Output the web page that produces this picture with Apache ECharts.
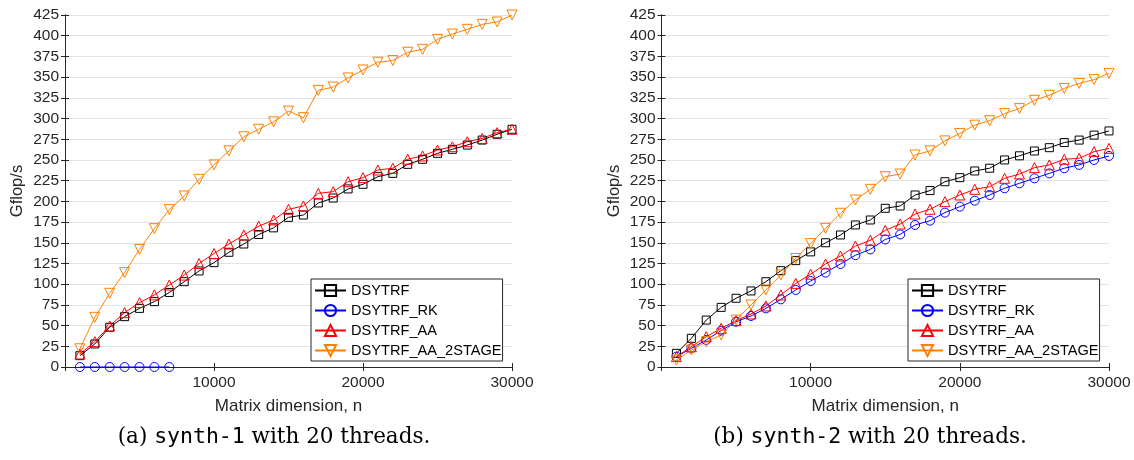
<!DOCTYPE html>
<html><head><meta charset="utf-8">
<script src="https://cdn.jsdelivr.net/npm/echarts@6/dist/echarts.min.js"></script>
<style>html,body{margin:0;padding:0;background:#fff}#c{width:1134px;height:460px}</style>
</head><body><div id="c"></div>
<script>
// Matrix dimension n
const nAll = [1000,2000,3000,4000,5000,6000,7000,8000,9000,10000,11000,12000,13000,14000,15000,
              16000,17000,18000,19000,20000,21000,22000,23000,24000,25000,26000,27000,28000,29000,30000];
const nRK1 = [1000,2000,3000,4000,5000,6000,7000];
const yTicks = [0,25,50,75,100,125,150,175,200,225,250,275,300,325,350,375,400,425];
const xTickLabels = ['10000','20000','30000'];
const seriesNames = ['DSYTRF','DSYTRF_RK','DSYTRF_AA','DSYTRF_AA_2STAGE'];

// (a) synth-1
const s1_DSYTRF = [13.7,27.8,48,60.8,70.8,78.9,90,103,116,126,138.5,148.5,160,168,180.7,183.5,198,204,215,220.6,229.8,233.8,244.7,250.8,258,262.8,268,274,281,287];
const s1_RK = [0,0,0,0,0,0,0];
const s1_AA = [15.7,30.6,49.5,65.6,77.7,87,99,111,125,137,148.5,159.4,170,177.5,190.4,194.4,209.7,211.7,223.7,228.6,237.9,240,251,254.8,262,266,272,276,283,287];
const s1_2STAGE = [22,60,89,114,142,167,190,206.5,226.6,244,261,278,287,296,309,301,334,338,349,358.6,368,370,380,383.6,395.6,402,407.7,413.7,416.6,425];

// (b) synth-2
const s2_DSYTRF = [16.5,34.6,56.7,72,83,91.8,103,116.3,128.4,139,150,159.4,171.5,177.5,191.6,194.4,207.7,213,223.7,228.6,236.7,240,250,255,260.8,264.8,271,274,280,285];
const s2_RK = [12.5,22.5,32.6,43.9,54.7,61.6,70.8,81.7,93,103.8,113.9,124.4,135,142,154,160,171.5,176.7,186.4,193.6,200.8,207.7,215.8,221.8,227.8,233.8,240,244,250,254.8];
const s2_AA = [12.5,24.5,36.6,46.7,56,64,73.7,87,101,112,124.4,134,146,153,165,172.6,184.7,190.4,199.6,207.7,214.5,217.7,227.8,233,240.7,244,250.8,252,260,264];
const s2_2STAGE = [8.5,20.5,30.6,38.6,56.7,74.9,93,111,131,149,167.4,185.6,201.6,214.5,229.8,233,256,261,273,282,292,297.4,306,312,322,328,336.4,342.4,347,354.5];

const styles = {
  'DSYTRF': {color:'#000000', symbol:'rect', size:8, rot:0},
  'DSYTRF_RK': {color:'#0000ff', symbol:'circle', size:9, rot:0},
  'DSYTRF_AA': {color:'#ff0000', symbol:'triangle', size:10, rot:0},
  'DSYTRF_AA_2STAGE': {color:'#ff8000', symbol:'triangle', size:10, rot:180}
};

const TXT = '#262626';
const FONT = 'Liberation Sans';

function zip(xs, ys){ return xs.map((x,i)=>[x, ys[i]]); }
function mk(name, xs, ys, gi){
  const s = styles[name];
  return {
    type:'line', name, xAxisIndex: gi*2, yAxisIndex: gi*2,
    data: zip(xs, ys), symbol: s.symbol, symbolSize: s.size, symbolRotate: s.rot,
    showAllSymbol: true, animation:false, silent:true,
    lineStyle:{color:s.color, width:1},
    itemStyle:{color:'rgba(255,255,255,0)', borderColor:s.color, borderWidth:1},
    emphasis:{disabled:true}
  };
}

const grids = [
  {left:65, top:15, width:447, height:352},
  {left:661.5, top:15, width:447.5, height:352}
];

function xAxes(gi){
  const base = {type:'value', gridIndex:gi, min:0, max:30000, interval:10000,
    splitLine:{show:false}, axisLine:{show:true, lineStyle:{color:TXT, width:1}},
    axisTick:{show:true, inside:true, length:4, lineStyle:{color:TXT}}};
  return [
    Object.assign({}, base, {position:'bottom',
      axisLabel:{show:true, showMinLabel:false, color:TXT, fontSize:15.5, fontFamily:FONT, margin:8,
        formatter: v => { const i = v/10000 - 1; return i >= 0 ? xTickLabels[i] : ''; }},
      name:'Matrix dimension, n', nameLocation:'middle', nameGap:31,
      nameTextStyle:{color:TXT, fontSize:17, fontFamily:FONT}}),
    Object.assign({}, base, {position:'top', axisLabel:{show:false}})
  ];
}
function yAxes(gi){
  const base = {type:'value', gridIndex:gi, min:0, max:425, interval:25,
    axisLine:{show:true, lineStyle:{color:TXT, width:1}},
    axisTick:{show:true, inside:true, length:4, lineStyle:{color:TXT}}};
  return [
    Object.assign({}, base, {position:'left',
      splitLine:{show:true, lineStyle:{color:'#e3e3e3', width:1}},
      axisLabel:{color:TXT, fontSize:15.5, fontFamily:FONT, margin:6,
        formatter: v => String(yTicks[Math.round(v/25)])},
      name:'Gflop/s', nameLocation:'middle', nameGap:39, nameRotate:90,
      nameTextStyle:{color:TXT, fontSize:16.5, fontFamily:FONT}}),
    Object.assign({}, base, {position:'right', splitLine:{show:false}, axisLabel:{show:false}})
  ];
}

function legend(left){
  return {
    data: seriesNames, orient:'vertical', left:left, top:279,
    padding:[4,1,3,3], itemGap:5, itemWidth:31, itemHeight:14,
    backgroundColor:'#ffffff', borderColor:TXT, borderWidth:1, borderRadius:0,
    textStyle:{color:'#000', fontSize:14.6, fontFamily:FONT},
    selectedMode:false
  };
}

function caption(x, label, code){
  return {type:'text', x:x, y:437, style:{
    text:'{s|' + label + ' }{m|' + code + '}{s| with 20 threads.}', rich:{
      s:{fontFamily:'DejaVu Serif', fontSize:21.5, fill:'#000'},
      m:{fontFamily:'DejaVu Sans Mono', fontSize:21.5, fill:'#000'}},
    align:'center', verticalAlign:'middle'}};
}

const option = {
  animation:false,
  grid: grids,
  xAxis: [...xAxes(0), ...xAxes(1)],
  yAxis: [...yAxes(0), ...yAxes(1)],
  legend: [legend(311), legend(908)],
  series: [
    mk('DSYTRF', nAll, s1_DSYTRF, 0),
    mk('DSYTRF_RK', nRK1, s1_RK, 0),
    mk('DSYTRF_AA', nAll, s1_AA, 0),
    mk('DSYTRF_AA_2STAGE', nAll, s1_2STAGE, 0),
    mk('DSYTRF', nAll, s2_DSYTRF, 1),
    mk('DSYTRF_RK', nAll, s2_RK, 1),
    mk('DSYTRF_AA', nAll, s2_AA, 1),
    mk('DSYTRF_AA_2STAGE', nAll, s2_2STAGE, 1)
  ],
  graphic: [
    caption(274, '(a)', 'synth-1'),
    caption(870, '(b)', 'synth-2')
  ]
};

const chart = echarts.init(document.getElementById('c'), null, {renderer:'canvas'});
chart.setOption(option);
</script>
</body></html>
